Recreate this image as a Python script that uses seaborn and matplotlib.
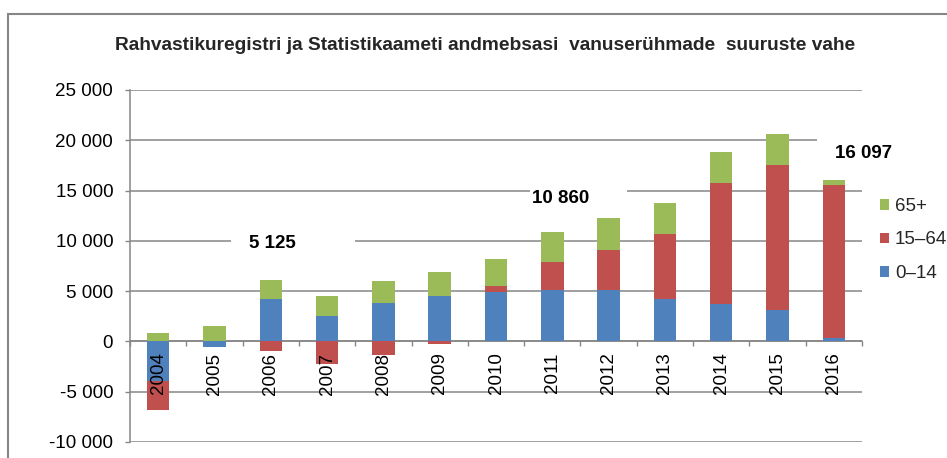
import numpy as np
import pandas as pd
import matplotlib
matplotlib.use("Agg")
import matplotlib.pyplot as plt
from matplotlib.patches import Patch, Rectangle
from matplotlib.ticker import FuncFormatter, MultipleLocator, FixedLocator
import seaborn as sns

# andmed (loetud graafikult)
years = ["2004", "2005", "2006", "2007", "2008", "2009", "2010",
         "2011", "2012", "2013", "2014", "2015", "2016"]
age_0_14 = [-3950, -530, 4200, 2550, 3840, 4470, 4870, 5130, 5070, 4170, 3710, 3090, 370]
age_15_64 = [-2910, 0, -960, -2260, -1390, -300, 660, 2750, 4010, 6530, 12040, 14450, 15170]
age_65 = [860, 1550, 1885, 1980, 2150, 2420, 2650, 2980, 3180, 3050, 3050, 3090, 557]

series_names = ["0–14", "15–64", "65+"]
series_colors = ["#4F81BD", "#C0504D", "#9BBB59"]

total_years = ["2006", "2011", "2016"]
total_labels = ["5 125", "10 860", "16 097"]

title = "Rahvastikuregistri ja Statistikaameti andmebsasi  vanuserühmade  suuruste vahe"

GRAY = "#868686"
FS = 13.5

sns.set_theme(style="white")
plt.rcParams["font.family"] = ["Liberation Sans", "DejaVu Sans"]

fig = plt.figure(figsize=(9.47, 4.58), dpi=100)
ax = fig.add_axes([130 / 947, 16 / 458, 732 / 947, 352 / 458])

df = pd.DataFrame({"year": years, "0–14": age_0_14, "15–64": age_15_64, "65+": age_65})

# positiivsed ja negatiivsed osad virnastatakse eraldi (nagu Excelis)
pos_base = np.zeros(len(years))
neg_base = np.zeros(len(years))
for name, color in zip(series_names, series_colors):
    vals = df[name].to_numpy(dtype=float)
    bottom = np.where(vals >= 0, pos_base, neg_base)
    sns.barplot(data=df, x="year", y=name, order=years, color=color,
                width=0.4, errorbar=None, saturation=1, linewidth=0,
                bottom=bottom, ax=ax)
    pos_base += np.clip(vals, 0, None)
    neg_base += np.clip(vals, None, 0)

ax.set_xlabel("")
ax.set_ylabel("")
ax.set_xlim(-0.5, len(years) - 0.5)
ax.set_ylim(-10000, 25000)

# y-telg
ax.yaxis.set_major_locator(MultipleLocator(5000))
ax.yaxis.set_major_formatter(FuncFormatter(lambda v, p: f"{v:,.0f}".replace(",", " ")))
ax.yaxis.grid(True, color=GRAY, linewidth=1.1)
ax.xaxis.grid(False)
ax.set_axisbelow(True)
ax.tick_params(axis="y", left=True, length=3.6, width=1, color=GRAY,
               pad=8.5, labelsize=FS, labelcolor="black")

# x-telg nulljoonel, silte üle tulpade
ax.spines["bottom"].set_position(("data", 0))
ax.spines["bottom"].set_zorder(0.6)
ax.xaxis.set_zorder(3)
ax.xaxis.set_minor_locator(FixedLocator(np.arange(-0.5, len(years), 1.0)))
ax.tick_params(axis="x", which="major", bottom=True, length=0, pad=8,
               labelsize=FS, labelrotation=90, labelcolor="black")
ax.tick_params(axis="x", which="minor", bottom=True, length=3.6, width=1, color=GRAY)

for s in ["top", "right"]:
    ax.spines[s].set_visible(False)
for s in ["left", "bottom"]:
    ax.spines[s].set_color(GRAY)
    ax.spines[s].set_linewidth(1.1)

# kogusummade sildid valge taustaga
label_pos = [(0.02, 9770, -0.73, 1.48), (0.14, 14250, -0.53, 1.19), (0.52, 18700, -0.82, 1.0)]
label_grid = [10000, 15000, 20000]
for yr, txt, (dx, ty, left, right), gy in zip(total_years, total_labels, label_pos, label_grid):
    xi = years.index(yr) + dx
    ax.add_patch(Rectangle((xi + left, gy - 450), right - left, 900,
                           facecolor="white", edgecolor="none", zorder=0.8))
    ax.text(xi, ty, txt, ha="center", va="center", fontsize=FS,
            fontweight="bold", color="black", zorder=4)

handles = [Patch(facecolor=c, edgecolor="none") for c in series_colors][::-1]
fig.legend(handles, series_names[::-1], loc="center left",
           bbox_to_anchor=(880 / 947, (458 - 240) / 458), frameon=False,
           fontsize=FS, handlelength=0.5, handleheight=0.5,
           handletextpad=0.3, labelspacing=0.88, borderpad=0, borderaxespad=0)

fig.text(485 / 947, (458 - 46) / 458, title, ha="center", va="center",
         fontsize=13.8, fontweight="bold")

# diagrammi raam
fig.add_artist(Rectangle((8 / 947, -0.1), 1.2, (458 - 14) / 458 + 0.1,
                         transform=fig.transFigure, fill=False,
                         edgecolor=GRAY, linewidth=1.5))

fig.savefig("out.png", dpi=100)
